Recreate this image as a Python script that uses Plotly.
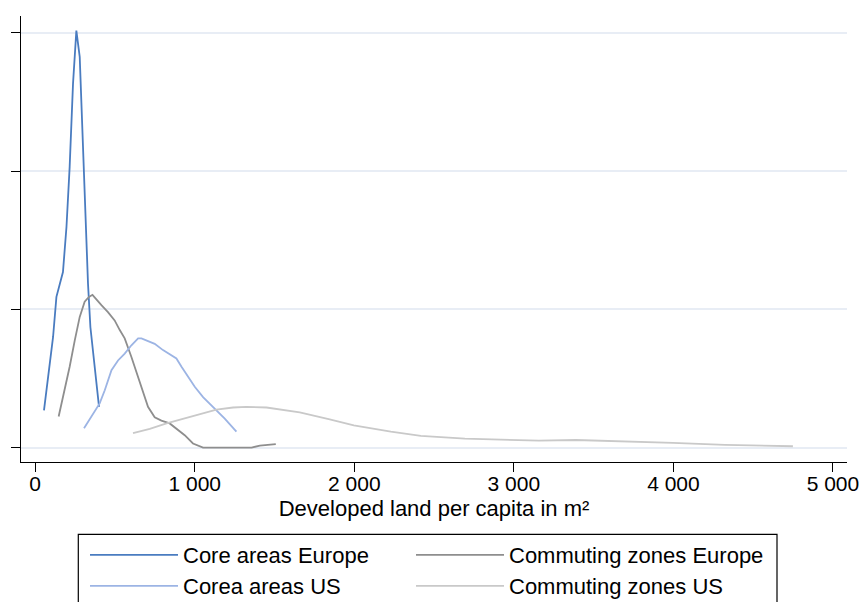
import plotly.graph_objects as go

# ---- data ----
core_eu_x = [55, 91, 112, 133, 174, 196, 216, 237, 258, 279, 300, 317, 331, 346, 373, 400]
core_eu_y = [0.00054, 0.00117, 0.00160, 0.00218, 0.00254, 0.00319, 0.00406, 0.00526, 0.00603,
             0.00565, 0.00430, 0.00333, 0.00237, 0.00174, 0.00117, 0.00059]

comm_eu_x = [147, 185, 216, 248, 279, 310, 337, 359, 384, 415, 456, 498, 530, 561, 603, 645, 676,
             707, 749, 791, 843, 885, 937, 989, 1052, 1240, 1356, 1408, 1508]
comm_eu_y = [0.00045, 0.00083, 0.00117, 0.00155, 0.00189, 0.00211, 0.00218, 0.00221, 0.00214,
             0.00206, 0.00196, 0.00184, 0.00170, 0.00158, 0.00131, 0.00102, 0.00078, 0.00059,
             0.00044, 0.00039, 0.00035, 0.00027, 0.00018, 0.00006, 0.0, 0.0, 0.0, 0.00003, 0.00005]

core_us_x = [306, 352, 404, 436, 478, 519, 561, 603, 645, 666, 697, 749, 801, 854, 885, 917, 958,
             1000, 1052, 1115, 1188, 1261]
core_us_y = [0.00028, 0.00044, 0.00064, 0.00083, 0.00112, 0.00126, 0.00136, 0.00148, 0.00158,
             0.00158, 0.00155, 0.00150, 0.00141, 0.00133, 0.00129, 0.00117, 0.00102, 0.00088,
             0.00073, 0.00059, 0.00042, 0.00023]

comm_us_x = [613, 718, 823, 927, 1031, 1136, 1240, 1324, 1450, 1554, 1658, 1846, 1997, 2229, 2417,
             2693, 2994, 3157, 3389, 3740, 3997, 4323, 4749]
comm_us_y = [0.00021, 0.00027, 0.00035, 0.00042, 0.00049, 0.00055, 0.00058, 0.00059, 0.00058,
             0.00055, 0.00051, 0.00041, 0.00032, 0.00023, 0.00017, 0.00013, 0.00011, 0.00010,
             0.00011, 0.00009, 0.00007, 0.00004, 0.00002]

series_names = ["Core areas Europe", "Commuting zones Europe", "Corea areas US", "Commuting zones US"]
x_ticks = [0, 1000, 2000, 3000, 4000, 5000]
x_tick_text = ["0", "1 000", "2 000", "3 000", "4 000", "5 000"]
y_ticks = [0, 0.002, 0.004, 0.006]
x_title = "Developed land per capita in m²"

# ---- styling ----
FONT = "Liberation Sans, Arial, sans-serif"
colors = ["#4a7cc0", "#8e8e8e", "#9cb4e4", "#c9c9c9"]
W, H = 860, 602
L, R, T, B = 21, 13, 16, 140
pw, ph = W - L - R, H - T - B


def px2paper_x(px):
    return (px - L) / pw


def px2paper_y(py):
    return (H - B - py) / ph


fig = go.Figure()
data = [(core_eu_x, core_eu_y), (comm_eu_x, comm_eu_y), (core_us_x, core_us_y), (comm_us_x, comm_us_y)]
legend_ids = ["legend", "legend2", "legend3", "legend4"]
for (xs, ys), name, col, lg in zip(data, series_names, colors, legend_ids):
    fig.add_trace(go.Scatter(x=xs, y=ys, mode="lines", name=name, legend=lg,
                             line=dict(color=col, width=1.8), hoverinfo="skip"))

# legend entry positions (pixels): columns and rows
col_px = [85, 411]
row_px = [555, 586]
pos = [(col_px[0], row_px[0]), (col_px[1], row_px[0]), (col_px[0], row_px[1]), (col_px[1], row_px[1])]
legend_cfg = {}
for lg, (lx, ly) in zip(legend_ids, pos):
    legend_cfg[lg] = dict(x=px2paper_x(lx), y=px2paper_y(ly), xanchor="left", yanchor="middle",
                          bgcolor="rgba(0,0,0,0)", borderwidth=0, itemwidth=88,
                          font=dict(family=FONT, size=22, color="black"),
                          itemclick=False, itemdoubleclick=False)

fig.update_layout(
    width=W, height=H,
    margin=dict(l=L, r=R, t=T, b=B, autoexpand=False),
    paper_bgcolor="white", plot_bgcolor="white",
    font=dict(family=FONT, size=21, color="black"),
    showlegend=True,
    **legend_cfg,
    xaxis=dict(range=[-89, 5088], tickvals=x_ticks, ticktext=x_tick_text,
               showline=True, linecolor="black", linewidth=1.2,
               ticks="outside", ticklen=9, tickwidth=1.2, tickcolor="black",
               ticklabelstandoff=-6,
               showgrid=False, zeroline=False,
               tickfont=dict(family=FONT, size=21, color="black"),
               title=dict(text=x_title, font=dict(family=FONT, size=22, color="black"), standoff=6)),
    yaxis=dict(range=[-0.000208, 0.006242], tickvals=y_ticks, showticklabels=False,
               showline=True, linecolor="black", linewidth=1.2,
               ticks="outside", ticklen=9, tickwidth=1.2, tickcolor="black",
               showgrid=True, gridcolor="#e8edf5", gridwidth=1.5, zeroline=False),
    shapes=[dict(type="rect", xref="paper", yref="paper",
                 x0=px2paper_x(78.3), x1=px2paper_x(777), y0=px2paper_y(534.3), y1=px2paper_y(640),
                 line=dict(color="black", width=1.2), fillcolor="rgba(0,0,0,0)", layer="above")],
)

fig.write_html("out.html", config={"displayModeBar": False},
               post_script="document.body.style.margin='0';document.body.style.padding='0';")
